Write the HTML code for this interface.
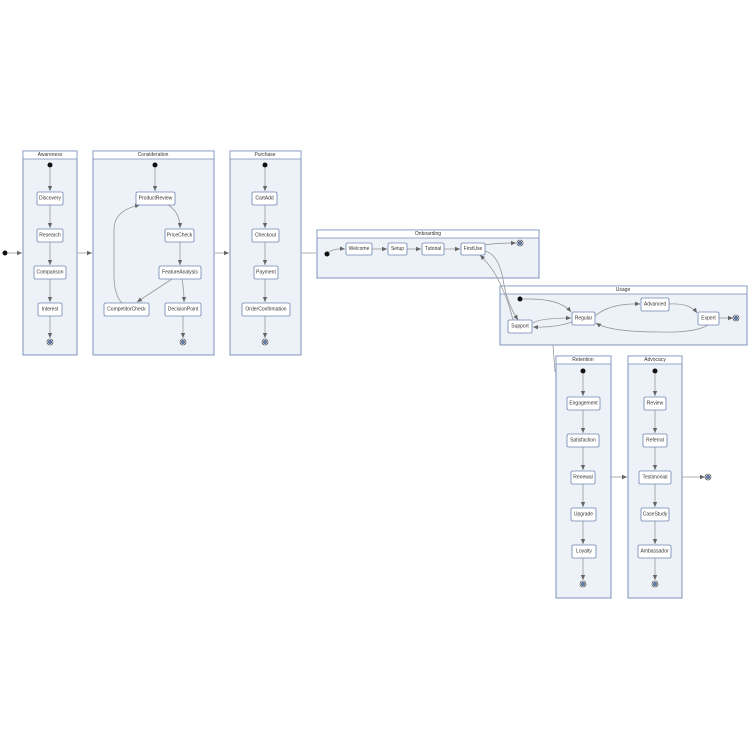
<!DOCTYPE html>
<html><head><meta charset="utf-8"><style>
html,body{margin:0;padding:0;background:#fff;}
svg{display:block;}
text{font-family:"Liberation Sans",sans-serif;font-size:5px;fill:#333;text-anchor:middle;dominant-baseline:central;}
.c{fill:#edf1f8;stroke:#7d93bd;stroke-width:1;}
.h{fill:#fff;stroke:#7d93bd;stroke-width:0.8;}
.n{fill:#fff;stroke:#6f86b3;stroke-width:0.8;}
.e{stroke:#999;stroke-width:0.8;fill:none;}
</style></head><body>
<svg width="750" height="750" viewBox="0 0 750 750" xmlns="http://www.w3.org/2000/svg">
<defs>
<marker id="a" markerWidth="6" markerHeight="6" refX="5" refY="3" orient="auto" markerUnits="userSpaceOnUse"><path d="M0,0.8 L5,3 L0,5.2 z" fill="#666"/></marker>
<g id="end"><circle r="3" fill="#fff" stroke="#333" stroke-width="0.6"/><circle r="1.8" fill="#5b7fc4" stroke="#333" stroke-width="0.4"/></g>
</defs>

<!-- clusters -->
<rect class="c" x="23" y="151" width="54" height="204"/><rect class="h" x="23" y="151" width="54" height="8"/><text x="50" y="155">Awareness</text>
<rect class="c" x="93" y="151" width="121" height="204"/><rect class="h" x="93" y="151" width="121" height="8"/><text x="153" y="155">Consideration</text>
<rect class="c" x="230" y="151" width="71" height="204"/><rect class="h" x="230" y="151" width="71" height="8"/><text x="265" y="155">Purchase</text>
<rect class="c" x="317" y="230" width="222" height="48"/><rect class="h" x="317" y="230" width="222" height="8"/><text x="428" y="234">Onboarding</text>
<rect class="c" x="500" y="286" width="247" height="59"/><rect class="h" x="500" y="286" width="247" height="8"/><text x="623" y="290">Usage</text>
<rect class="c" x="556" y="356" width="55" height="242"/><rect class="h" x="556" y="356" width="55" height="8"/><text x="583" y="360">Retention</text>
<rect class="c" x="628" y="356" width="54" height="242"/><rect class="h" x="628" y="356" width="54" height="8"/><text x="655" y="360">Advocacy</text>

<!-- inter-cluster edges -->
<circle cx="5" cy="253" r="2.5" fill="#111"/>
<path class="e" d="M7,253 H22" marker-end="url(#a)"/>
<path class="e" d="M78,253 H92" marker-end="url(#a)"/>
<path class="e" d="M215,253 H229" marker-end="url(#a)"/>
<path class="e" d="M302,253 H316"/>
<path class="e" d="M553,345 L555,372"/>
<path class="e" d="M611,477 H627" marker-end="url(#a)"/>
<path class="e" d="M682,477 H705" marker-end="url(#a)"/>
<use href="#end" x="708" y="477"/>

<!-- Awareness -->
<circle cx="50" cy="165" r="2.5" fill="#111"/>
<path class="e" d="M50,168 V191" marker-end="url(#a)"/>
<path class="e" d="M50,205 V228" marker-end="url(#a)"/>
<path class="e" d="M50,242 V265" marker-end="url(#a)"/>
<path class="e" d="M50,279 V302" marker-end="url(#a)"/>
<path class="e" d="M50,316 V338" marker-end="url(#a)"/>
<rect class="n" x="37" y="192" width="26" height="13" rx="1.5"/><text x="50" y="198.5">Discovery</text>
<rect class="n" x="37" y="229" width="26" height="13" rx="1.5"/><text x="50" y="235.5">Research</text>
<rect class="n" x="34" y="266" width="32" height="13" rx="1.5"/><text x="50" y="272.5">Comparison</text>
<rect class="n" x="38" y="303" width="24" height="13" rx="1.5"/><text x="50" y="309.5">Interest</text>
<use href="#end" x="50" y="342"/>

<!-- Consideration -->
<circle cx="155" cy="165" r="2.5" fill="#111"/>
<path class="e" d="M155,168 V191" marker-end="url(#a)"/>
<path class="e" d="M168,205 Q180,212 180,228" marker-end="url(#a)"/>
<path class="e" d="M180,242 V265" marker-end="url(#a)"/>
<path class="e" d="M172,279 L137,302" marker-end="url(#a)"/>
<path class="e" d="M182,279 Q184,290 184,302" marker-end="url(#a)"/>
<path class="e" d="M122,303 Q114,295 114,275 V230 Q114,210 140,205" marker-end="url(#a)"/>
<path class="e" d="M183,316 V338" marker-end="url(#a)"/>
<rect class="n" x="136" y="192" width="39" height="13" rx="1.5"/><text x="155.5" y="198.5">ProductReview</text>
<rect class="n" x="165" y="229" width="29" height="13" rx="1.5"/><text x="179.5" y="235.5">PriceCheck</text>
<rect class="n" x="159" y="266" width="42" height="13" rx="1.5"/><text x="180" y="272.5">FeatureAnalysis</text>
<rect class="n" x="104" y="303" width="45" height="13" rx="1.5"/><text x="126.5" y="309.5">CompetitorCheck</text>
<rect class="n" x="165" y="303" width="36" height="13" rx="1.5"/><text x="183" y="309.5">DecisionPoint</text>
<use href="#end" x="183" y="342"/>

<!-- Purchase -->
<circle cx="265" cy="165" r="2.5" fill="#111"/>
<path class="e" d="M265,168 V191" marker-end="url(#a)"/>
<path class="e" d="M265,205 V228" marker-end="url(#a)"/>
<path class="e" d="M265,242 V265" marker-end="url(#a)"/>
<path class="e" d="M265,279 V302" marker-end="url(#a)"/>
<path class="e" d="M265,316 V338" marker-end="url(#a)"/>
<rect class="n" x="252" y="192" width="25" height="13" rx="1.5"/><text x="264.5" y="198.5">CartAdd</text>
<rect class="n" x="252" y="229" width="27" height="13" rx="1.5"/><text x="265.5" y="235.5">Checkout</text>
<rect class="n" x="254" y="266" width="24" height="13" rx="1.5"/><text x="266" y="272.5">Payment</text>
<rect class="n" x="242" y="303" width="48" height="13" rx="1.5"/><text x="266" y="309.5">OrderConfirmation</text>
<use href="#end" x="265" y="342"/>

<!-- Onboarding -->
<circle cx="327" cy="254" r="2.5" fill="#111"/>
<path class="e" d="M329,252 Q335,248 345,249" marker-end="url(#a)"/>
<path class="e" d="M372,249 H387" marker-end="url(#a)"/>
<path class="e" d="M407,249 H421" marker-end="url(#a)"/>
<path class="e" d="M444,249 H460" marker-end="url(#a)"/>
<path class="e" d="M485,245 Q495,243 516,243" marker-end="url(#a)"/>
<path class="e" d="M485,251 Q500,255 504,285 Q508,305 518,320" marker-end="url(#a)"/>
<path class="e" d="M513,320 Q508,300 502,288 Q495,270 480,255" marker-end="url(#a)"/>
<rect class="n" x="346" y="243" width="26" height="12" rx="1.5"/><text x="359" y="249">Welcome</text>
<rect class="n" x="388" y="243" width="19" height="12" rx="1.5"/><text x="397.5" y="249">Setup</text>
<rect class="n" x="422" y="243" width="22" height="12" rx="1.5"/><text x="433" y="249">Tutorial</text>
<rect class="n" x="461" y="243" width="24" height="12" rx="1.5"/><text x="473" y="249">FirstUse</text>
<use href="#end" x="520" y="243"/>

<!-- Usage -->
<circle cx="520" cy="299" r="2.5" fill="#111"/>
<path class="e" d="M523,299 Q560,298 571,312" marker-end="url(#a)"/>
<path class="e" d="M533,323 Q540,318 571,318" marker-end="url(#a)"/>
<path class="e" d="M572,322 Q555,328 533,327" marker-end="url(#a)"/>
<path class="e" d="M595,316 Q610,303 640,304" marker-end="url(#a)"/>
<path class="e" d="M669,304 Q690,303 697,313" marker-end="url(#a)"/>
<path class="e" d="M708,325 Q695,333 660,332 Q610,332 596,323" marker-end="url(#a)"/>
<path class="e" d="M719,318 H733" marker-end="url(#a)"/>
<rect class="n" x="508" y="320" width="24" height="13" rx="1.5"/><text x="520" y="326.5">Support</text>
<rect class="n" x="572" y="312" width="23" height="13" rx="1.5"/><text x="583.5" y="318.5">Regular</text>
<rect class="n" x="641" y="298" width="28" height="13" rx="1.5"/><text x="655" y="304.5">Advanced</text>
<rect class="n" x="698" y="312" width="21" height="13" rx="1.5"/><text x="708.5" y="318.5">Expert</text>
<use href="#end" x="736" y="318"/>

<!-- Retention -->
<circle cx="583" cy="371" r="2.5" fill="#111"/>
<path class="e" d="M583,374 V396" marker-end="url(#a)"/>
<path class="e" d="M583,410 V433" marker-end="url(#a)"/>
<path class="e" d="M583,447 V470" marker-end="url(#a)"/>
<path class="e" d="M583,484 V507" marker-end="url(#a)"/>
<path class="e" d="M583,521 V544" marker-end="url(#a)"/>
<path class="e" d="M583,558 V580" marker-end="url(#a)"/>
<rect class="n" x="567" y="397" width="33" height="13" rx="1.5"/><text x="583.5" y="403.5">Engagement</text>
<rect class="n" x="567" y="434" width="32" height="13" rx="1.5"/><text x="583" y="440.5">Satisfaction</text>
<rect class="n" x="571" y="471" width="24" height="13" rx="1.5"/><text x="583" y="477.5">Renewal</text>
<rect class="n" x="571" y="508" width="25" height="13" rx="1.5"/><text x="583.5" y="514.5">Upgrade</text>
<rect class="n" x="572" y="545" width="24" height="13" rx="1.5"/><text x="584" y="551.5">Loyalty</text>
<use href="#end" x="583" y="584"/>

<!-- Advocacy -->
<circle cx="655" cy="371" r="2.5" fill="#111"/>
<path class="e" d="M655,374 V396" marker-end="url(#a)"/>
<path class="e" d="M655,410 V433" marker-end="url(#a)"/>
<path class="e" d="M655,447 V470" marker-end="url(#a)"/>
<path class="e" d="M655,484 V507" marker-end="url(#a)"/>
<path class="e" d="M655,521 V544" marker-end="url(#a)"/>
<path class="e" d="M655,558 V580" marker-end="url(#a)"/>
<rect class="n" x="644" y="397" width="22" height="13" rx="1.5"/><text x="655" y="403.5">Review</text>
<rect class="n" x="643" y="434" width="24" height="13" rx="1.5"/><text x="655" y="440.5">Referral</text>
<rect class="n" x="639" y="471" width="32" height="13" rx="1.5"/><text x="655" y="477.5">Testimonial</text>
<rect class="n" x="641" y="508" width="28" height="13" rx="1.5"/><text x="655" y="514.5">CaseStudy</text>
<rect class="n" x="638" y="545" width="33" height="13" rx="1.5"/><text x="654.5" y="551.5">Ambassador</text>
<use href="#end" x="655" y="584"/>
</svg>
</body></html>
